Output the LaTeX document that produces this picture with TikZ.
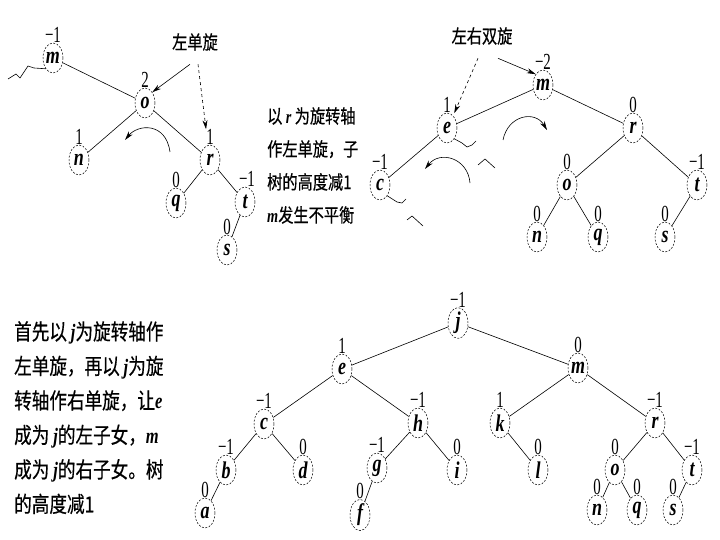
\documentclass[tikz,border=0pt]{standalone}
\usepackage{fontspec}
\usepackage{tikz}
\usetikzlibrary{shapes.geometric, arrows.meta}
\newfontfamily\cjk[FakeStretch=0.8, FakeBold=0.5]{Noto Sans CJK SC}
\newfontfamily\lfont[FakeStretch=0.75]{Liberation Serif}
\newfontfamily\nfont[FakeStretch=0.65]{Liberation Serif}
\newcommand{\tvar}[1]{{\lfont\bfseries\itshape #1}}
\newcommand{\bnum}[1]{{\nfont\fontsize{23}{23}\selectfont #1}}
\tikzstyle{tnode} = [ellipse, draw, dash pattern=on 2pt off 1.5pt,
line width=0.5pt, minimum width=20pt, minimum height=30pt, inner sep=0pt,
font=\lfont\fontsize{24}{24}\selectfont\bfseries\itshape, label distance=4pt]
\tikzstyle{bal} = [inner sep=0pt]
\tikzset{bl/.style={label={[bal]above:\bnum{#1}}}}
\tikzstyle{edge} = [line width=0.6pt]
\tikzstyle{arrow} = [-{Stealth[length=9pt, width=5pt]}, line width=0.6pt]
\tikzstyle{note} = [align=left, anchor=north west, inner sep=0pt]

\begin{document}
\begin{tikzpicture}[x=1pt, y=-1pt]
    \useasboundingbox (0,0) rectangle (720,540);

    % first tree: left single rotation at o
    \node (m1) [tnode, bl=−1] at (53,58) {m};
    \node (o1) [tnode, bl=2] at (145,103) {o};
    \node (n1) [tnode, bl=1] at (79,160) {n};
    \node (r1) [tnode, label={[bal, name=r1b]above:\bnum{1}}] at (210,160) {r};
    \node (q1) [tnode, bl=0] at (176,203) {q};
    \node (t1) [tnode, label={[bal, xshift=2pt]above:\bnum{−1}}] at (245,202) {t};
    \node (s1) [tnode, bl=0] at (227,250) {s};
    \draw[edge] (m1) -- (o1);
    \draw[edge] (o1) -- (n1);
    \draw[edge] (o1) -- (r1);
    \draw[edge] (r1) -- (q1);
    \draw[edge] (r1) -- (t1);
    \draw[edge] (t1) -- (s1);
    \draw[edge] (m1.south west) -- (34,68) -- (28,66) -- (20,78) -- (16,74) -- (8,79);

    \node (lrot) [font=\cjk\fontsize{19}{19}\selectfont] at (195,42) {左单旋};
    \draw[arrow] ([xshift=-5pt, yshift=-10pt]lrot.south) -- (o1.north east);
    \draw[arrow, dashed] ([xshift=3pt, yshift=-10pt]lrot.south) -- (r1b.north west);
    \draw[arrow] (170,152) .. controls (166,122) and (138,124) .. (125,140);

    \node (txt1) [note, font=\cjk\fontsize{19}{33}\selectfont] at (267,107)
    {以 \tvar{r} 为旋转轴\\作左单旋，子\\树的高度减1\\\tvar{m}发生不平衡};

    % second tree: left-right double rotation
    \node (m2) [tnode, bl=−2] at (543,85) {m};
    \node (e2) [tnode, bl=1] at (447,128) {e};
    \node (c2) [tnode, bl=−1] at (380,185) {c};
    \node (r2) [tnode, bl=0] at (633,128) {r};
    \node (o2) [tnode, bl=0] at (567,185) {o};
    \node (t2) [tnode, bl=−1] at (697,185) {t};
    \node (n2) [tnode, bl=0] at (537,237) {n};
    \node (q2) [tnode, bl=0] at (598,237) {q};
    \node (s2) [tnode, bl=0] at (665,237) {s};
    \draw[edge] (m2) -- (e2);
    \draw[edge] (m2) -- (r2);
    \draw[edge] (e2) -- (c2);
    \draw[edge] (r2) -- (o2);
    \draw[edge] (r2) -- (t2);
    \draw[edge] (o2) -- (n2);
    \draw[edge] (o2) -- (q2);
    \draw[edge] (t2) -- (s2);
    \draw[edge] (e2.south east) -- (462,143) -- (467,147) -- (472,145) -- (476,141);
    \draw[edge] (478,165) -- (485,159) -- (495,168);
    \draw[edge] (c2.south east) -- (397,202) -- (402,203) -- (406,199);
    \draw[edge] (407,220) -- (412,216) -- (423,226);

    \node (drot) [font=\cjk\fontsize{19}{19}\selectfont] at (482,36) {左右双旋};
    \draw[arrow, dashed] ([xshift=-4pt, yshift=-10pt]drot.south) -- ([yshift=4pt]e2.north east);
    \draw[arrow] ([xshift=16pt, yshift=-10pt]drot.south) -- (m2.north west);
    \draw[arrow] (503,140) .. controls (508,115) and (535,110) .. (547,130);
    \draw[arrow] (470,183) .. controls (468,158) and (440,150) .. (425,169);

    % third tree: after both rotations
    \node (j3) [tnode, bl=−1] at (458,323) {j};
    \node (e3) [tnode, bl=1] at (342,369) {e};
    \node (m3) [tnode, bl=0] at (578,368) {m};
    \node (c3) [tnode, bl=−1] at (264,424) {c};
    \node (h3) [tnode, bl=−1] at (418,423) {h};
    \node (k3) [tnode, bl=1] at (500,423) {k};
    \node (r3) [tnode, bl=−1] at (655,423) {r};
    \node (b3) [tnode, bl=−1] at (226,470) {b};
    \node (d3) [tnode, bl=0] at (303,470) {d};
    \node (g3) [tnode, bl=−1] at (377,468) {g};
    \node (i3) [tnode, bl=0] at (457,470) {i};
    \node (l3) [tnode, bl=0] at (538,470) {l};
    \node (o3) [tnode, bl=0] at (615,470) {o};
    \node (t3) [tnode, bl=−1] at (692,470) {t};
    \node (a3) [tnode, bl=0] at (205,513) {a};
    \node (f3) [tnode, bl=0] at (360,515) {f};
    \node (n3) [tnode, bl=0] at (597,510) {n};
    \node (q3) [tnode, bl=0] at (637,510) {q};
    \node (s3) [tnode, bl=0] at (673,510) {s};
    \draw[edge] (j3) -- (e3);
    \draw[edge] (j3) -- (m3);
    \draw[edge] (e3) -- (c3);
    \draw[edge] (e3) -- (h3);
    \draw[edge] (c3) -- (b3);
    \draw[edge] (c3) -- (d3);
    \draw[edge] (b3) -- (a3);
    \draw[edge] (h3) -- (g3);
    \draw[edge] (h3) -- (i3);
    \draw[edge] (g3) -- (f3);
    \draw[edge] (m3) -- (k3);
    \draw[edge] (m3) -- (r3);
    \draw[edge] (k3) -- (l3);
    \draw[edge] (r3) -- (o3);
    \draw[edge] (r3) -- (t3);
    \draw[edge] (o3) -- (n3);
    \draw[edge] (o3) -- (q3);
    \draw[edge] (t3) -- (s3);

    \node (txt2) [note, font=\cjk\fontsize{22}{34.5}\selectfont] at (14,321)
    {首先以 \tvar{j}为旋转轴作\\左单旋，再以 \tvar{j}为旋\\转轴作右单旋，让\tvar{e}\\成为 \tvar{j}的左子女，\tvar{m}\\成为 \tvar{j}的右子女。树\\的高度减1};
\end{tikzpicture}
\end{document}
